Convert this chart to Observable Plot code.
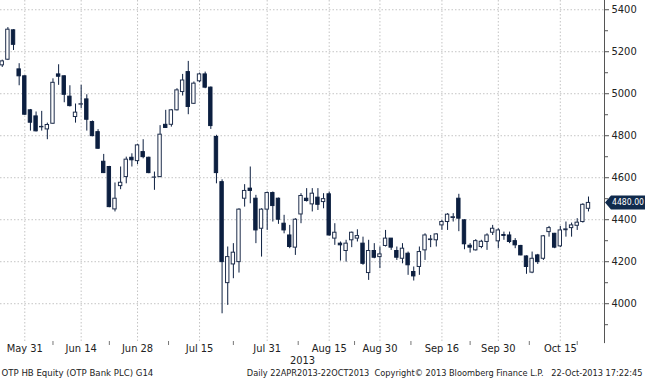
<!DOCTYPE html>
<html><head><meta charset="utf-8">
<script src="https://cdn.jsdelivr.net/npm/d3@7"></script>
<script src="https://cdn.jsdelivr.net/npm/@observablehq/plot@0.6"></script>
<style>
html,body{margin:0;padding:0;background:#fff;}
#chart svg{display:block;}
</style></head><body><div id="chart"></div>
<script>
// Trading-day index of first visible candle (May 31 = 0)
const firstIndex = -4;
const opens  = [5135,5162,5302,5116,5083,4921,4892,4840,4830,4857,5092,5083,4986,4889,4948,4973,4865,4817,4676,4651,4449,4560,4603,4695,4679,4722,4695,4600,4603,4852,4852,4921,5008,5103,4952,5059,5092,5029,4794,4579,4098,4187,4198,4500,4548,4500,4357,4448,4527,4500,4381,4325,4267,4425,4500,4473,4505,4484,4521,4310,4286,4251,4302,4310,4286,4146,4251,4222,4275,4310,4251,4214,4238,4151,4175,4254,4303,4302,4373,4389,4408,4500,4397,4276,4254,4270,4294,4338,4297,4327,4325,4298,4275,4225,4148,4230,4214,4341,4333,4273,4350,4360,4371,4389,4452];
const highs  = [5160,5315,5305,5143,5085,4925,4913,4916,4860,5071,5138,5085,5038,4951,5040,4995,4870,4829,4711,4654,4575,4651,4698,4714,4759,4781,4698,4627,4848,4921,4925,5024,5092,5154,5056,5098,5103,5032,4802,4590,4270,4286,4452,4567,4651,4516,4452,4532,4532,4503,4421,4373,4405,4524,4548,4548,4548,4524,4532,4381,4294,4302,4341,4352,4317,4302,4286,4270,4349,4310,4270,4286,4246,4175,4270,4333,4325,4333,4397,4429,4429,4521,4400,4286,4305,4302,4333,4373,4357,4341,4341,4310,4278,4228,4246,4235,4325,4368,4335,4368,4389,4384,4405,4476,4508];
const lows   = [5125,5158,5206,5038,4898,4822,4818,4822,4781,4855,5040,4957,4937,4860,4929,4822,4795,4735,4620,4457,4437,4543,4571,4651,4662,4690,4619,4540,4600,4835,4841,4918,4989,4900,4949,5052,5024,4830,4571,3952,3992,4119,4146,4460,4476,4286,4222,4349,4389,4378,4333,4262,4230,4381,4484,4437,4444,4452,4322,4278,4203,4198,4267,4294,4183,4111,4214,4167,4270,4254,4206,4190,4135,4108,4135,4206,4267,4270,4349,4349,4389,4343,4257,4241,4251,4262,4254,4325,4262,4302,4286,4262,4228,4140,4143,4187,4206,4317,4262,4267,4317,4317,4349,4384,4437];
const closes = [5154,5305,5233,5083,4900,4862,4821,4842,4851,5052,5081,4995,4941,4910,4950,4876,4798,4738,4622,4460,4500,4576,4686,4683,4754,4698,4622,4601,4805,4837,4921,5016,5063,4937,5048,5092,5029,4846,4622,4198,4222,4243,4448,4537,4537,4349,4448,4527,4465,4400,4349,4270,4400,4513,4489,4524,4471,4498,4325,4338,4278,4286,4338,4322,4190,4251,4219,4235,4310,4267,4219,4262,4183,4130,4246,4325,4306,4330,4389,4424,4412,4405,4283,4267,4298,4295,4325,4357,4349,4323,4294,4278,4230,4175,4214,4198,4321,4360,4267,4349,4354,4373,4386,4471,4480];

const tickLabels = ["May 31","Jun 14","Jun 28","Jul 15","Jul 31","Aug 15","Aug 30","Sep 16","Sep 30","Oct 15"];
const tickIndex  = [0,10,20,31,43,54,63,74,84,95];
const minorTickIndex = [5,15,25.5,37,48.5,58.5,68.5,79,89.5,98];
const yMajor = [4000,4200,4400,4600,4800,5000,5200,5400];
const yMinor = [3900,4100,4300,4500,4700,4900,5100,5300];
const lastPrice = 4480.00;
const yearLabel = "2013";
const footerLeft = "OTP HB Equity (OTP Bank PLC) G14";
const footerRight = "Daily 22APR2013-22OCT2013  Copyright\u00A9 2013 Bloomberg Finance L.P.   22-Oct-2013 17:22:45";

const candles = opens.map((o, k) => ({i: firstIndex + k, open: o, high: highs[k], low: lows[k], close: closes[k]}));
const NAVY = "#0c1f40";
const OUTLINE = "#1f2e4c";
const GRID = "#c4c4c4";
const FONT = "'Liberation Sans Narrow','DejaVu Sans Condensed','Liberation Sans',sans-serif";
const xDomain = [-4.31, 102.84];

const chart = Plot.plot({
  width: 645, height: 380,
  marginLeft: 0, marginRight: 41, marginTop: 0, marginBottom: 39,
  x: {type: "linear", domain: xDomain, axis: null, label: null},
  y: {domain: [3820, 5444], axis: null, label: null},
  style: {fontFamily: FONT, fontSize: "11px", color: "#222", background: "#fff", overflow: "visible"},
  marks: [
    Plot.ruleY(yMajor, {stroke: GRID, strokeDasharray: "1.5,2"}),
    Plot.ruleX(tickIndex, {stroke: GRID, strokeDasharray: "1.5,2"}),
    Plot.ruleX(candles, {x: "i", y1: "low", y2: "high", stroke: NAVY, strokeWidth: 1, clip: true}),
    Plot.rect(candles, {
      x1: d => d.i - 0.3, x2: d => d.i + 0.3,
      y1: "open", y2: "close",
      fill: d => d.close >= d.open ? "#ffffff" : NAVY,
      stroke: d => d.close >= d.open ? OUTLINE : NAVY,
      strokeWidth: 1, clip: true
    }),
    Plot.ruleX([xDomain[1]], {stroke: "#555", y1: 5444, y2: 3810, clip: false}),
    Plot.axisY(yMajor, {anchor: "right", label: null, tickSize: 4, tickPadding: 3, stroke: "#555", fill: "#222", fontSize: 11, tickFormat: d3.format("d")}),
    Plot.axisY(yMinor, {anchor: "right", label: null, tickSize: 3, stroke: "#555", tickFormat: () => ""}),
    Plot.axisX(minorTickIndex, {anchor: "bottom", label: null, tickSize: 4, stroke: "#777", tickFormat: () => ""}),
    Plot.axisX(tickIndex, {anchor: "bottom", label: null, tickSize: 0, tickPadding: 3, fill: "#222", fontSize: 11,
      tickFormat: d => tickLabels[tickIndex.indexOf(d)]}),
    Plot.text([yearLabel], {frameAnchor: "bottom", dy: 22, fill: "#222", fontSize: 11}),
    Plot.text([footerLeft], {frameAnchor: "bottom-left", dx: 1, dy: 34, textAnchor: "start", fill: "#222", fontSize: 10}),
    Plot.text([footerRight], {frameAnchor: "bottom-right", dx: 38, dy: 34, textAnchor: "end", fill: "#222", fontSize: 10})
  ]
});

document.getElementById("chart").appendChild(chart);
const svg = d3.select(chart);

// fit footer texts to the reference widths by font size (measured)
function fit(text, target) {
  svg.selectAll("text").filter(function(){ return this.textContent === text; }).each(function(){
    const len = this.getComputedTextLength();
    if (len > 0) d3.select(this).attr("font-size", (10 * target / len).toFixed(2));
  });
}
fit(footerLeft, 152);
fit(footerRight, 396);

// last price tag, positioned through Plot's own scales
const yS = chart.scale("y"), xS = chart.scale("x");
const ty = yS.apply(lastPrice);
const tx = xS.apply(xDomain[1]) + 1;
const tag = svg.append("g");
tag.append("path")
  .attr("d", `M${tx},${ty} L${tx+6},${ty-7} L645,${ty-7} L645,${ty+7} L${tx+6},${ty+7} Z`)
  .attr("fill", "#102a4c");
const tt = tag.append("text").attr("x", tx + 7).attr("y", ty).attr("dy", "0.35em")
  .attr("text-anchor", "start")
  .attr("fill", "#fff").attr("font-family", FONT).attr("font-size", 11)
  .text(lastPrice.toFixed(2));
const tl = tt.node().getComputedTextLength();
if (tl > 32) tt.attr("font-size", (11 * 32 / tl).toFixed(2));
</script>
</body></html>
